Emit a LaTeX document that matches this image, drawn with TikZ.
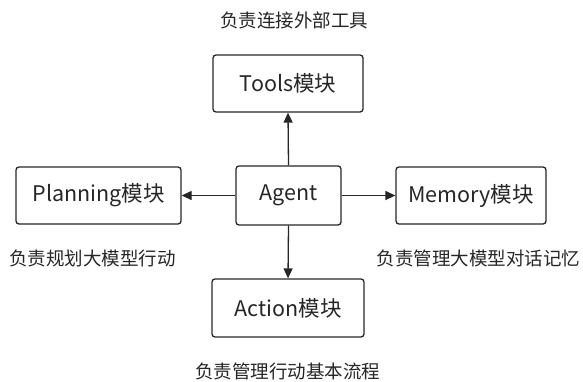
\documentclass[tikz,border=0pt]{standalone}
\usepackage{fontspec}
\setmainfont{Noto Sans CJK SC}
\usetikzlibrary{arrows.meta}
\begin{document}
\begin{tikzpicture}[x=1pt,y=-1pt,
  box/.style={draw=black!85, line width=1.3pt, rounded corners=3pt, inner sep=0pt, font=\fontsize{21.5}{24}\selectfont, text=black!85},
  note/.style={inner sep=0pt, font=\fontsize{18.5}{21}\selectfont, text=black!85},
  conn/.style={draw=black!85, line width=1.3pt, -{Triangle[length=10pt,width=9pt]}}]
\useasboundingbox (0,0) rectangle (583,381);
\node[box, minimum width=150pt, minimum height=57pt] (tools) at (288,83.5) {Tools模块};
\node[box, minimum width=165pt, minimum height=57pt] (plan) at (98.5,195.5) {Planning模块};
\node[box, minimum width=105pt, minimum height=59pt] (agent) at (288.5,195.5) {Agent};
\node[box, minimum width=150pt, minimum height=57pt] (mem) at (471,195.5) {Memory模块};
\node[box, minimum width=152pt, minimum height=58pt] (act) at (288,308) {Action模块};
\node[note] (ntools) at (294,20) {负责连接外部工具};
\node[note] (nplan) at (92.5,258) {负责规划大模型行动};
\node[note] (nmem) at (478.5,258) {负责管理大模型对话记忆};
\node[note] (nact) at (287.5,371) {负责管理行动基本流程};
\draw[conn] (agent.north) -- (tools.south);
\draw[conn] (agent.west) -- (plan.east);
\draw[conn] (agent.east) -- (mem.west);
\draw[conn] (agent.south) -- (act.north);
\end{tikzpicture}
\end{document}
